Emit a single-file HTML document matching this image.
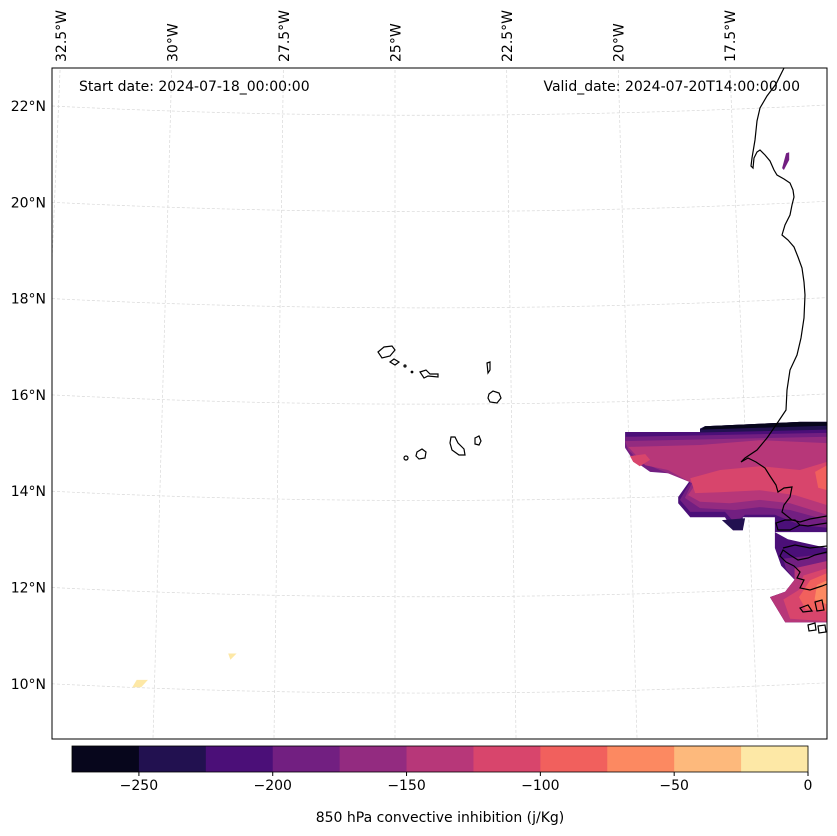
<!DOCTYPE html>
<html><head><meta charset="utf-8">
<style>
body{margin:0;background:#fff;font-family:"Liberation Sans","DejaVu Sans",sans-serif;}
svg{display:block}
text{font-family:"DejaVu Sans","Liberation Sans",sans-serif;fill:#000}
</style></head>
<body>
<svg id="chart" width="837" height="836" viewBox="0 0 837 836">
<defs><clipPath id="mapclip"><rect x="52" y="68" width="775" height="671"/></clipPath></defs>
<rect x="0" y="0" width="837" height="836" fill="#fff"/>
<g id="grid" clip-path="url(#mapclip)"></g>
<g id="fill" clip-path="url(#mapclip)"></g>
<g clip-path="url(#mapclip)" fill="none" stroke="#000" stroke-width="1.2">
<path d="M784,68 L776,84 L767,96 L760,108 L757,121 L755,140 L752,158 L751,166 L753,168 L754,158 L757,152 L760,150 L765,155 L770,161 L774,170 L777,175 L784,179 L790,183 L793,190 L794,197 L792,205 L790,215 L785,225 L782,235 L788,240 L794,247 L798,257 L802,268 L804,282 L805,295 L804,318 L801,338 L797,355 L790,370 L787,390 L786,410 L776,425 L767,438 L757,450 L745,458 L741,462 L748,458 L756,462 L765,468 L770,476 L776,485 L778,492 L784,488 L792,487 L790,497 L784,505 L782,512 L792,520 L800,522 L810,519 L827,516"/>
<path d="M827,523 L808,526 L800,525 L795,520 L785,520 L776,523 L778,530 L790,530 L800,525"/>
<path d="M827,552 L815,555 L808,558 L798,560 L790,555 L783,550 L780,556 L786,562 L794,566 L800,572 L797,578 L804,580 L800,588 L810,590 L822,586 L827,584"/>
<path d="M783,548 L795,545 L810,548 L827,546"/>
<path d="M800,608 L808,605 L812,611 L803,612 Z M815,602 L822,600 L824,610 L817,611 Z M808,625 L815,623 L816,630 L809,631 Z M818,626 L825,625 L826,632 L819,633 Z"/>
<path d="M378,352 L384,347 L392,346 L395,350 L390,356 L382,358 Z"/>
<path d="M390,362 L394,359 L399,362 L395,365 Z"/>
<path d="M420,372 L426,370 L430,374 L438,374 L438,377 L428,376 L424,378 Z"/>
<path d="M487,363 L490,362 L490,370 L488,373 Z"/>
<path d="M489,394 L493,391 L499,393 L501,398 L497,403 L490,402 L488,398 Z"/>
<path d="M451,437 L455,437 L458,443 L464,449 L465,455 L459,455 L452,450 L450,443 Z"/>
<path d="M475,438 L479,436 L481,441 L479,445 L475,444 Z"/>
<path d="M417,452 L422,449 L426,452 L425,458 L419,459 L416,456 Z"/>
<circle cx="406" cy="458" r="2"/>
<circle cx="405" cy="366" r="1"/>
<circle cx="412" cy="372" r="0.8"/>
</g>
<rect x="52" y="68" width="775" height="671" fill="none" stroke="#000" stroke-width="1"/>
<g id="labels"></g>
<text x="79" y="91" font-size="14">Start date: 2024-07-18_00:00:00</text>
<text x="800" y="91" font-size="14" text-anchor="end">Valid_date: 2024-07-20T14:00:00.00</text>
<g id="cbar"></g>
<text x="440" y="822" font-size="14" text-anchor="middle">850 hPa convective inhibition (j/Kg)</text>
</svg>
<script>
const NS="http://www.w3.org/2000/svg";
// colorbar data
const levels=[-275,-250,-225,-200,-175,-150,-125,-100,-75,-50,-25,0];
const binColors=["#07061c","#221150","#4b0f78","#721f81","#932b80","#b73779","#d8456c","#f1605d","#fc8961","#fdb97c","#fde8a6"];
const cbTicks=[-250,-200,-150,-100,-50,0];
// map ticks
const latTicks=[22,20,18,16,14,12,10];
const lonTicks=[-32.5,-30,-27.5,-25,-22.5,-20,-17.5];
// contour polygons (lon, lat) with bin index
const contourBins=[2,1,0,3,4,5,6,6,7,1,2,3,5,6,7,8,10,10,3];
const contourPolys=[
 [[-19.85,15.23],[-18.17,15.23],[-18.06,15.35],[-15.93,15.44],[-15.32,15.44],[-15.32,13.15],[-16.49,13.15],[-16.49,13.46],[-17.21,13.46],[-17.21,13.19],[-17.43,13.19],[-17.61,13.46],[-18.39,13.46],[-18.66,13.75],[-18.66,13.88],[-18.39,14.23],[-18.73,14.44],[-19.29,14.44],[-19.70,14.69],[-19.85,14.92]],
 [[-18.17,15.30],[-18.06,15.35],[-15.93,15.44],[-15.32,15.44],[-15.32,15.28],[-18.17,15.22]],
 [[-18.17,15.26],[-18.06,15.35],[-15.93,15.44],[-15.32,15.44],[-15.32,15.36],[-18.17,15.28]],
 [[-19.85,15.13],[-15.32,15.21],[-15.32,13.24],[-15.93,13.30],[-16.49,13.51],[-17.16,13.51],[-17.39,13.34],[-17.61,13.57],[-18.39,13.57],[-18.62,13.82],[-18.39,14.19],[-18.71,14.36],[-19.29,14.40],[-19.67,14.65],[-19.85,14.90]],
 [[-19.85,15.04],[-15.32,15.13],[-15.32,13.40],[-16.15,13.61],[-16.83,13.67],[-17.39,13.61],[-18.17,13.65],[-18.51,13.86],[-18.35,14.17],[-19.07,14.44],[-19.52,14.61],[-19.78,14.86]],
 [[-19.78,14.92],[-18.17,14.96],[-16.83,15.06],[-15.32,15.00],[-15.32,13.51],[-16.15,13.75],[-16.83,13.82],[-17.50,13.75],[-18.17,13.78],[-18.44,13.92],[-18.28,14.13],[-18.89,14.44],[-19.40,14.54]],
 [[-18.39,14.27],[-17.72,14.44],[-16.83,14.52],[-15.93,14.44],[-15.32,14.61],[-15.32,13.71],[-16.04,13.92],[-16.83,14.02],[-17.72,13.98],[-18.28,13.96]],
 [[-19.74,14.73],[-19.40,14.77],[-19.29,14.65],[-19.52,14.52],[-19.67,14.61]],
 [[-15.59,14.40],[-15.32,14.54],[-15.32,14.02],[-15.52,14.07]],
 [[-17.68,13.40],[-17.16,13.44],[-17.21,13.19],[-17.43,13.19]],
 [[-16.49,13.15],[-16.20,13.00],[-15.32,12.82],[-15.32,11.28],[-16.26,11.28],[-16.60,11.80],[-16.26,11.91],[-16.05,12.16],[-16.35,12.45],[-16.49,12.82]],
 [[-16.30,12.60],[-15.32,12.70],[-15.32,11.28],[-16.26,11.28],[-16.60,11.80],[-16.26,11.91],[-16.05,12.16],[-16.25,12.40]],
 [[-16.05,12.40],[-15.32,12.55],[-15.32,11.28],[-16.26,11.28],[-16.60,11.80],[-16.26,11.91],[-16.05,12.16]],
 [[-15.85,12.25],[-15.32,12.40],[-15.32,11.30],[-16.15,11.35],[-16.30,11.75],[-15.95,11.95]],
 [[-15.70,12.15],[-15.32,12.30],[-15.32,11.50],[-15.80,11.55],[-15.95,11.80]],
 [[-15.55,12.05],[-15.32,12.15],[-15.32,11.65],[-15.60,11.75]],
 [[-30.80,10.08],[-30.55,10.08],[-30.70,9.93],[-30.90,9.93]],
 [[-28.75,10.63],[-28.56,10.63],[-28.70,10.50]],
 [[-16.24,21.02],[-16.17,21.04],[-16.17,20.88],[-16.29,20.67],[-16.33,20.71]]
];
const X=lon=>440+(lon+24)*44.6;
const Y=lat=>106+(22-lat)*48.15;
const fill=document.getElementById('fill');
contourPolys.forEach((poly,i)=>{
 const p=document.createElementNS(NS,'polygon');
 p.setAttribute('points',poly.map(q=>X(q[0]).toFixed(1)+','+Y(q[1]).toFixed(1)).join(' '));
 p.setAttribute('fill',binColors[contourBins[i]]);
 
 
 fill.appendChild(p);
});
// graticule
const grid=document.getElementById('grid');
latTicks.concat([24,8]).forEach(lat=>{
 const y=Y(lat);
 const p=document.createElementNS(NS,'path');
 p.setAttribute('d',`M52,${y} Q430,${y+19} 827,${y-1}`);
 p.setAttribute('fill','none');p.setAttribute('stroke','#d8d8d8');p.setAttribute('stroke-width','0.7');p.setAttribute('stroke-dasharray','3,2');
 
 
 grid.appendChild(p);
});
const gx=(lon,y)=>395+(lon+25)*44.8*(1+(y-95)*1.25e-4);
[-35,-32.5,-30,-27.5,-25,-22.5,-20,-17.5,-15].forEach(lon=>{
 const p=document.createElementNS(NS,'line');
 p.setAttribute('x1',gx(lon,60));p.setAttribute('y1',60);p.setAttribute('x2',gx(lon,745));p.setAttribute('y2',745);
 p.setAttribute('stroke','#d8d8d8');p.setAttribute('stroke-width','0.7');p.setAttribute('stroke-dasharray','3,2');
 
 
 grid.appendChild(p);
});
const labels=document.getElementById('labels');
latTicks.forEach(lat=>{
 const t=document.createElementNS(NS,'text');
 t.setAttribute('x',46);t.setAttribute('y',Y(lat)+5);t.setAttribute('text-anchor','end');t.setAttribute('font-size','14');
 t.textContent=lat+'°N';
 
 
 labels.appendChild(t);
});
lonTicks.forEach(lon=>{
 const x=X(lon)+5;
 const t=document.createElementNS(NS,'text');
 t.setAttribute('transform',`translate(${x},62) rotate(-90)`);t.setAttribute('font-size','14');
 t.textContent=Math.abs(lon)+'°W';
 
 
 labels.appendChild(t);
});
// colorbar
const cb=document.getElementById('cbar');
const cx0=72,cx1=808,cy=746,ch=26;
const CX=v=>cx0+(v-levels[0])/(levels[levels.length-1]-levels[0])*(cx1-cx0);
binColors.forEach((c,i)=>{
 const r=document.createElementNS(NS,'rect');
 r.setAttribute('x',CX(levels[i]));r.setAttribute('y',cy);r.setAttribute('width',CX(levels[i+1])-CX(levels[i])+0.5);r.setAttribute('height',ch);r.setAttribute('fill',c);
 
 
 cb.appendChild(r);
});
const fr=document.createElementNS(NS,'rect');
fr.setAttribute('x',cx0);fr.setAttribute('y',cy);fr.setAttribute('width',cx1-cx0);fr.setAttribute('height',ch);fr.setAttribute('fill','none');fr.setAttribute('stroke','#000');fr.setAttribute('stroke-width','0.8');


cb.appendChild(fr);
cbTicks.forEach(v=>{
 const x=CX(v);
 const l=document.createElementNS(NS,'line');
 l.setAttribute('x1',x);l.setAttribute('x2',x);l.setAttribute('y1',cy+ch);l.setAttribute('y2',cy+ch+4);l.setAttribute('stroke','#000');
 
 
 cb.appendChild(l);
 const t=document.createElementNS(NS,'text');
 t.setAttribute('x',x);t.setAttribute('y',cy+ch+18);t.setAttribute('text-anchor','middle');t.setAttribute('font-size','14');
 t.textContent=v<0?'\u2212'+Math.abs(v):String(v);
 
 
 cb.appendChild(t);
});
</script>
</body></html>
